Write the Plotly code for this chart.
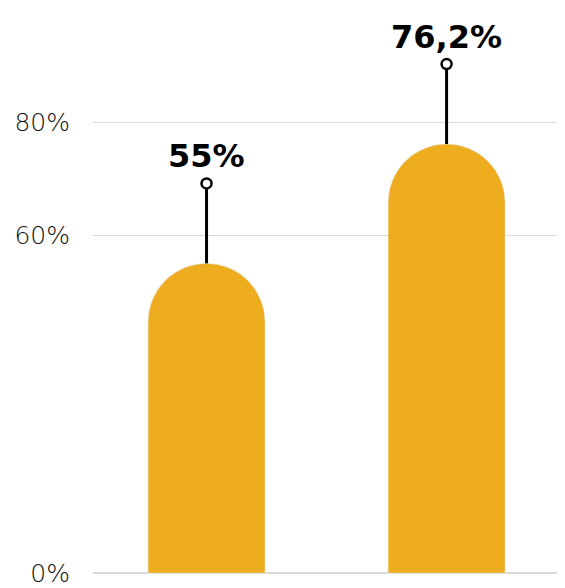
import plotly.graph_objects as go

categories = ["A", "B"]
values = [55, 76.2]
value_labels = ["55%", "76,2%"]
tick_vals = [0, 60, 80]
tick_text = ["0%", "60%", "80%"]

BAR_COLOR = "#EEAD1F"
STEM = 14.2  # stem length in data units above each bar

fig = go.Figure()
fig.add_trace(go.Bar(
    x=categories, y=values, marker=dict(color=BAR_COLOR, cornerradius="50%"),
    width=0.4875, hoverinfo="skip",
))

for c, v in zip(categories, values):
    fig.add_trace(go.Scatter(
        x=[c, c], y=[v, v + STEM], mode="lines",
        line=dict(color="black", width=3), hoverinfo="skip", showlegend=False,
    ))
fig.add_trace(go.Scatter(
    x=categories, y=[v + STEM for v in values], mode="markers",
    marker=dict(symbol="circle", size=10, color="white",
                line=dict(color="black", width=2.5)),
    hoverinfo="skip", showlegend=False,
))

for c, v, t in zip(categories, values, value_labels):
    fig.add_annotation(x=c, y=v + STEM, text=f"<b>{t}</b>", showarrow=False,
                       yanchor="bottom", yshift=6,
                       font=dict(family="DejaVu Sans, sans-serif", size=32, color="black"))

# page body has an 8px default margin, so the figure is sized to the remaining area
fig.update_layout(
    width=557, height=580,
    margin=dict(l=85, r=2, t=2, b=0),
    plot_bgcolor="white", paper_bgcolor="white",
    showlegend=False,
)
fig.update_yaxes(range=[-1.76, 100], tickvals=tick_vals, ticktext=tick_text,
                 showgrid=True, gridcolor="#d9d9d9", gridwidth=1,
                 zeroline=True, zerolinecolor="#d9d9d9", zerolinewidth=1.5,
                 ticks="", ticklabelstandoff=22, ticklabeloverflow="allow",
                 tickfont=dict(family="DejaVu Sans, sans-serif", size=25, color="#111", weight=200))
fig.update_xaxes(showticklabels=False, showgrid=False, range=[-0.473, 1.485])

fig.write_html("out.html")
